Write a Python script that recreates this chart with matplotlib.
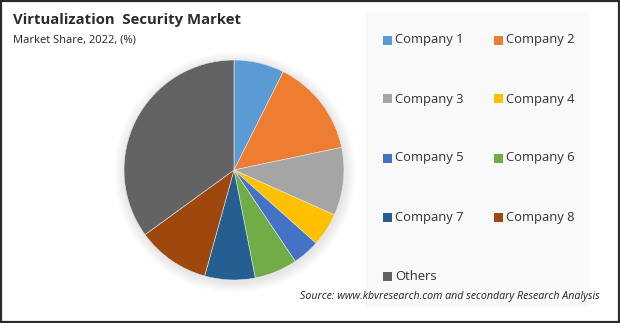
import matplotlib.pyplot as plt
from matplotlib.patches import Rectangle, Circle

labels = ['Company 1', 'Company 2', 'Company 3', 'Company 4', 'Company 5',
          'Company 6', 'Company 7', 'Company 8', 'Others']
shares = [7.4, 14.3, 10.0, 4.9, 4.0, 6.3, 7.4, 10.7, 35.0]
colors = ['#5B9BD5', '#ED7D31', '#A5A5A5', '#FFC000', '#4472C4',
          '#70AD47', '#255E91', '#9E480E', '#636363']

W, H = 620, 323
fig = plt.figure(figsize=(W / 100, H / 100), dpi=100)
fig.patch.set_facecolor('white')

# outer frame
fig.add_artist(Rectangle((0.002, 0.003), 0.996, 0.994, transform=fig.transFigure,
                         fill=False, edgecolor='#2b2b2b', linewidth=1.6))

# legend background panel
fig.add_artist(Rectangle((366 / W, 1 - 307 / H), (589 - 366) / W, (307 - 11) / H,
                         transform=fig.transFigure, facecolor='#f9f9f9',
                         edgecolor='none', zorder=0))

fig.text(13 / W, 1 - 20 / H, 'Virtualization  Security Market', fontsize=10.7,
         fontweight='bold', color='#2b2b2b', va='center', family='Open Sans')
fig.text(13 / W, 1 - 40 / H, 'Market Share, 2022, (%)', fontsize=8,
         color='#222222', va='center', family='Open Sans')

# pie
cx, cy, r = 234, 170, 110
pad = 1.12
ax = fig.add_axes([(cx - r * pad) / W, (H - cy - r * pad) / H,
                   2 * r * pad / W, 2 * r * pad / H])
# soft shadow
for i in range(8):
    ax.add_patch(Circle((0.01, -0.02), 1.0 + 0.012 * (8 - i), color='#000000',
                        alpha=0.012, zorder=0, linewidth=0))
ax.pie(shares, colors=colors, startangle=90, counterclock=False,
       wedgeprops=dict(edgecolor='#e8e8e8', linewidth=0.4))
ax.set_xlim(-pad, pad)
ax.set_ylim(-pad, pad)
ax.axis('off')

# legend, two columns filled row by row
col_x = [383, 494]
row_y = [40, 99, 158, 217, 276]
for i, lab in enumerate(labels):
    x = col_x[i % 2]
    y = row_y[i // 2]
    fig.add_artist(Rectangle((x / W, 1 - (y + 4.5) / H), 9 / W, 9 / H,
                             transform=fig.transFigure, facecolor=colors[i],
                             edgecolor='none'))
    fig.text((x + 12) / W, 1 - y / H, lab, fontsize=9.4, color='#333333',
             va='center', family='Open Sans')

fig.text(600 / W, 1 - 296 / H,
         'Source: www.kbvresearch.com and secondary Research Analysis',
         fontsize=7.7, style='italic', color='#222222', ha='right', va='center',
         family='Open Sans')

fig.savefig('out.png', dpi=100)
